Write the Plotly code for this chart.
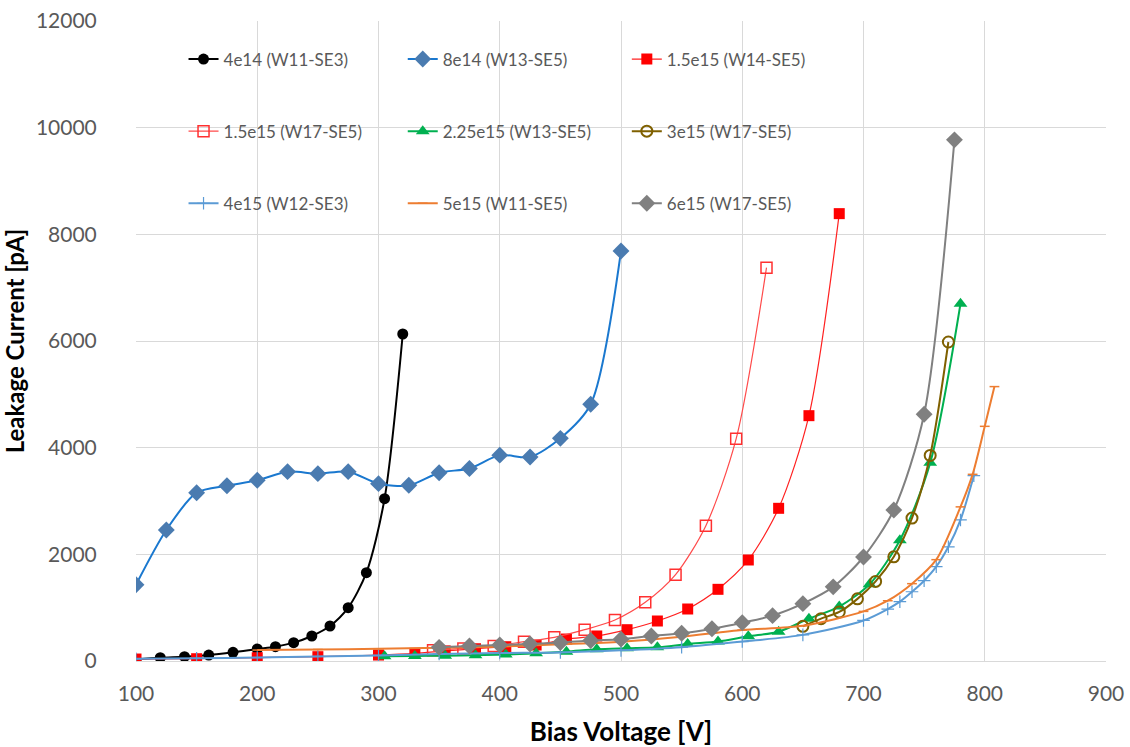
import plotly.graph_objects as go

# Leakage current vs. bias voltage for irradiated sensors
v_4e14 = [100, 120, 140, 160, 180, 200, 215, 230, 245, 260, 275, 290, 305, 320]
i_4e14 = [30, 62, 81, 112, 163, 225, 269, 344, 469, 656, 1000, 1656, 3044, 6131]

v_8e14 = [100, 125, 150, 175, 200, 225, 250, 275, 300, 325, 350, 375, 400, 425, 450, 475, 500]
i_8e14 = [1430, 2456, 3156, 3287, 3388, 3550, 3513, 3550, 3325, 3294, 3531, 3610, 3860, 3825, 4175, 4813, 7688]

v_15e15_w14 = [100, 150, 200, 250, 300, 330, 355, 380, 405, 430, 455, 480, 505, 530, 555, 580, 605, 630, 655, 680]
i_15e15_w14 = [37, 43, 62, 81, 112, 144, 190, 230, 268, 300, 412, 469, 587, 750, 975, 1344, 1894, 2863, 4600, 8388]

v_15e15_w17 = [345, 370, 395, 420, 445, 470, 495, 520, 545, 570, 595, 620]
i_15e15_w17 = [200, 235, 280, 362, 444, 587, 769, 1100, 1619, 2538, 4169, 7375]

v_225e15 = [305, 330, 355, 380, 405, 430, 455, 480, 505, 530, 555, 580, 605, 630, 655, 680, 705, 730, 755, 780]
i_225e15 = [90, 95, 100, 110, 120, 144, 175, 219, 238, 256, 319, 365, 462, 550, 794, 1020, 1440, 2265, 3715, 6699]

v_3e15 = [650, 665, 680, 695, 710, 725, 740, 755, 770]
i_3e15 = [650, 794, 919, 1165, 1492, 1954, 2680, 3854, 5981]

v_4e15 = [100, 150, 200, 250, 300, 350, 400, 450, 500, 550, 600, 650, 700, 720, 730, 740, 750, 760, 770, 780, 791]
i_4e15 = [40, 50, 65, 85, 105, 130, 150, 160, 200, 260, 365, 490, 760, 974, 1112, 1298, 1506, 1768, 2141, 2645, 3474]

v_5e15 = [200, 250, 300, 350, 400, 450, 500, 550, 600, 650, 700, 720, 740, 760, 780, 790, 800, 808]
i_5e15 = [205, 215, 230, 250, 269, 313, 363, 456, 581, 660, 930, 1130, 1450, 1900, 2890, 3500, 4400, 5145]

v_6e15 = [350, 375, 400, 425, 450, 475, 500, 525, 550, 575, 600, 625, 650, 675, 700, 725, 750, 775]
i_6e15 = [256, 281, 300, 319, 345, 385, 410, 469, 519, 605, 719, 850, 1075, 1390, 1950, 2831, 4627, 9772]

x_ticks = [100, 200, 300, 400, 500, 600, 700, 800, 900]
y_ticks = [0, 2000, 4000, 6000, 8000, 10000, 12000]

FONT = "Lato, 'Open Sans', sans-serif"
TXT = "#595959"

series = [
    # name, x, y, line color, line width, marker symbol, marker color, size, marker line, legend
    ("4e14 (W11-SE3)", v_4e14, i_4e14, "#000000", 2, "circle", "#000000", 11, 0, "legend"),
    ("8e14 (W13-SE5)", v_8e14, i_8e14, "#1a78cf", 2, "diamond", "#4a7bb0", 13, 0, "legend2"),
    ("1.5e15 (W14-SE5)", v_15e15_w14, i_15e15_w14, "#ff2020", 1.2, "square", "#ff0000", 11, 0, "legend3"),
    ("1.5e15 (W17-SE5)", v_15e15_w17, i_15e15_w17, "#ff4a4a", 1.2, "square-open", "#ff3030", 11, 1.5, "legend"),
    ("2.25e15 (W13-SE5)", v_225e15, i_225e15, "#00b050", 2, "triangle-up", "#00b050", 12, 0, "legend2"),
    ("3e15 (W17-SE5)", v_3e15, i_3e15, "#7f6000", 2, "circle-open", "#7f6000", 11, 2, "legend3"),
    ("4e15 (W12-SE3)", v_4e15, i_4e15, "#5b9bd5", 2, "cross-thin", "#5b9bd5", 9, 1.2, "legend"),
    ("5e15 (W11-SE5)", v_5e15, i_5e15, "#ed7d31", 2, "line-ew", "#ed7d31", 7, 1.5, "legend2"),
    ("6e15 (W17-SE5)", v_6e15, i_6e15, "#808080", 2, "diamond", "#808080", 13, 0, "legend3"),
]

fig = go.Figure()
for k, (name, xs, ys, lc, lw, sym, mc, ms, mlw, leg) in enumerate(series):
    marker = dict(symbol=sym, size=ms, color=mc)
    if mlw:
        marker["line"] = dict(color=mc, width=mlw)
    fig.add_trace(go.Scatter(
        x=xs, y=ys, name=name, mode="lines+markers",
        line=dict(color=lc, width=lw, shape="spline", smoothing=0.8),
        marker=marker, legend=leg, legendgroup=f"g{k}",
    ))

legend_common = dict(
    yanchor="top", xanchor="left", y=0.968,
    bgcolor="rgba(0,0,0,0)", borderwidth=0,
    font=dict(family=FONT, size=17, color=TXT),
    tracegroupgap=47, itemwidth=30,
)

fig.update_layout(
    width=1130, height=747,
    margin=dict(l=136, r=24, t=21, b=86, autoexpand=False),
    paper_bgcolor="white", plot_bgcolor="white",
    font=dict(family=FONT, color=TXT),
    showlegend=True,
    legend=dict(x=0.049, **legend_common),
    legend2=dict(x=0.275, **legend_common),
    legend3=dict(x=0.506, **legend_common),
    xaxis=dict(
        range=[100, 900], tickvals=x_ticks, ticktext=[str(t) for t in x_ticks],
        showgrid=True, gridcolor="#d9d9d9", gridwidth=1, zeroline=False,
        showline=True, linecolor="#d9d9d9", linewidth=1,
        ticks="outside", ticklen=14, tickcolor="rgba(0,0,0,0)",
        tickfont=dict(family=FONT, size=21, color=TXT),
        title=dict(text="<b>Bias Voltage [V]</b>", standoff=20,
                   font=dict(family=FONT, size=26, color="#000000")),
    ),
    yaxis=dict(
        range=[0, 12000], tickvals=y_ticks, ticktext=[str(t) for t in y_ticks],
        showgrid=True, gridcolor="#d9d9d9", gridwidth=1, zeroline=False,
        showline=False,
        ticks="outside", ticklen=34, tickcolor="rgba(0,0,0,0)",
        tickfont=dict(family=FONT, size=21, color=TXT),
        title=dict(text="<b>Leakage Current [pA]</b>", standoff=10,
                   font=dict(family=FONT, size=24, color="#000000")),
    ),
)

fig.write_html("out.html")
